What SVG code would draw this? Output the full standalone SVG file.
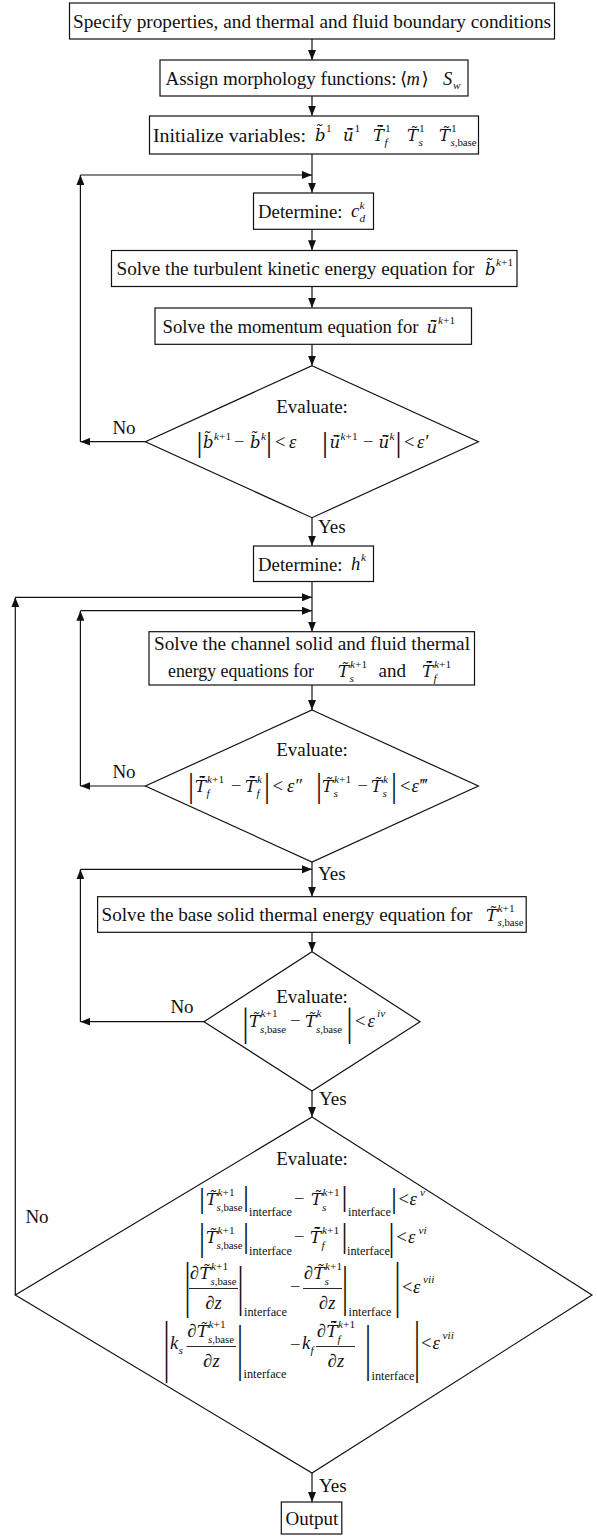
<svg xmlns="http://www.w3.org/2000/svg" width="597" height="1536" viewBox="0 0 597 1536">
<defs>
<style>
text{font-family:"Liberation Serif","Times New Roman","DejaVu Serif",serif;fill:#111}
.t{font-size:19px}
.c{text-anchor:middle}
.i{font-size:18.5px;font-style:italic}
.ad{font-family:"DejaVu Serif",serif;font-size:16.5px;font-style:italic}
.u{font-size:18.5px;font-style:normal}
.s{font-size:11.3px;font-style:normal}
.sb{font-size:10.8px;font-style:normal}
.si{font-size:11.3px;font-style:italic}
.if{font-size:12.3px;font-style:normal}
.bar{font-size:30px;text-anchor:middle}
.nd{fill:#fff;stroke:#111;stroke-width:1.2}
.e{fill:none;stroke:#111;stroke-width:1.2}
.ob{stroke:#111;stroke-width:0.9}
</style>
<marker id="ah" viewBox="0 0 10 8" refX="10" refY="4" markerWidth="10" markerHeight="8" markerUnits="userSpaceOnUse" orient="auto"><path d="M0,0L10,4L0,8z" fill="#111"/></marker>
</defs>
<rect width="597" height="1536" fill="#fff"/>

<g id="connectors" class="e" marker-end="url(#ah)">
<path d="M312,39V60"/>
<path d="M312,96V115.7"/>
<path d="M312,154V192.7"/>
<path d="M312,229.3V250.3"/>
<path d="M312,286.7V307.7"/>
<path d="M312,344.3V365.7"/>
<path d="M312,517.7V545.7"/>
<path d="M312,581.5V631.7"/>
<path d="M312,685V710"/>
<path d="M312,862V896.7"/>
<path d="M312,932.3V951.7"/>
<path d="M312,1091V1117"/>
<path d="M312,1473V1502"/>
<path d="M145.4,441.7H80.4"/>
<path d="M80.4,441.7V175"/>
<path d="M80.4,175H312"/>
<path d="M145.4,786H80.4"/>
<path d="M80.4,786V610.7"/>
<path d="M80.4,610.7H312"/>
<path d="M204,1021.7H80.4"/>
<path d="M80.4,1021.7V869.3"/>
<path d="M80.4,869.3H312"/>
<path d="M15.3,1295V597.3"/>
<path d="M15.3,597.3H312"/>
</g>
<g id="edge-labels" class="t">
<text class="c" x="124" y="433.5">No</text>
<text x="318" y="533">Yes</text>
<text class="c" x="124" y="778">No</text>
<text x="318" y="880">Yes</text>
<text class="c" x="182" y="1013">No</text>
<text x="319" y="1105">Yes</text>
<text class="c" x="37" y="1223">No</text>
<text x="319" y="1492">Yes</text>
</g>

<g id="n1">
<rect class="nd" x="69.5" y="3" width="485" height="36"/>
<text class="t" x="73" y="27.5" textLength="478" lengthAdjust="spacingAndGlyphs">Specify properties, and thermal and fluid boundary conditions</text>
</g>

<g id="n2">
<rect class="nd" x="160" y="60" width="308" height="36"/>
<text class="t" x="165.5" y="84.5" textLength="231" lengthAdjust="spacingAndGlyphs">Assign morphology functions:</text>
<text class="t"><tspan class="u" x="400" y="84.5" font-size="20">⟨</tspan><tspan class="i" x="406.5" y="84.5">m</tspan><tspan class="u" x="421.5" y="84.5" font-size="20">⟩</tspan><tspan class="i" x="443" y="84.5">S</tspan><tspan class="si" x="453" y="88.5">w</tspan></text>
</g>

<g id="n3">
<rect class="nd" x="149.5" y="116" width="329" height="38"/>
<text class="t" x="153" y="141.5" textLength="153" lengthAdjust="spacingAndGlyphs">Initialize variables:</text>
<text class="t"><tspan class="ad" x="315" y="141">b&#x303;</tspan><tspan class="s" x="326" y="132">1</tspan><tspan class="ad" x="343" y="141">u&#x304;&#x303;</tspan><tspan class="s" x="354.5" y="132">1</tspan><tspan class="ad" x="373" y="141">T&#x304;&#x303;</tspan><tspan class="si" x="384.5" y="145.5">f</tspan><tspan class="s" x="385" y="132">1</tspan><tspan class="ad" x="407" y="141">T&#x303;</tspan><tspan class="si" x="418.5" y="145.5">s</tspan><tspan class="s" x="419" y="132">1</tspan><tspan class="ad" x="439" y="141">T&#x303;</tspan><tspan class="sb" x="450.5" y="145.5"><tspan font-style="italic">s</tspan>,base</tspan><tspan class="s" x="451" y="132">1</tspan></text>
</g>

<g id="n4">
<rect class="nd" x="253.5" y="193" width="120" height="36.3"/>
<text class="t" x="258" y="217.5" textLength="84.5" lengthAdjust="spacingAndGlyphs">Determine:</text>
<text class="t"><tspan class="i" x="351" y="217">c</tspan><tspan class="si" x="359.5" y="209">k</tspan><tspan class="si" x="359.5" y="222">d</tspan></text>
</g>

<g id="n5">
<rect class="nd" x="111.5" y="250.5" width="405.5" height="36"/>
<text class="t" x="116.5" y="275" textLength="358" lengthAdjust="spacingAndGlyphs">Solve the turbulent kinetic energy equation for</text>
<text class="t"><tspan class="ad" x="485" y="275">b&#x303;</tspan><tspan class="s" x="496" y="266"><tspan font-style="italic">k</tspan>+1</tspan></text>
</g>

<g id="n6">
<rect class="nd" x="155" y="308" width="316.5" height="36.3"/>
<text class="t" x="162.5" y="332.5" textLength="256" lengthAdjust="spacingAndGlyphs">Solve the momentum equation for</text>
<text class="t"><tspan class="ad" x="426.5" y="332.5">u&#x304;&#x303;</tspan><tspan class="s" x="438" y="324"><tspan font-style="italic">k</tspan>+1</tspan></text>
</g>

<g id="d1">
<polygon class="nd" points="312,365.7 478.4,441.7 312,517.7 145.4,441.7"/>
<text class="t c" x="312" y="413">Evaluate:</text>
<text class="bar" x="199.5" y="451.5">|</text>
<text class="bar" x="269" y="451.5">|</text>
<text class="bar" x="325" y="451.5">|</text>
<text class="bar" x="398.5" y="451.5">|</text>
<text class="i"><tspan class="ad" x="203" y="448">b&#x303;</tspan><tspan class="s" x="214" y="440"><tspan font-style="italic">k</tspan>+1</tspan><tspan class="u" x="234" y="448">−</tspan><tspan class="ad" x="250" y="448">b&#x303;</tspan><tspan class="si" x="261" y="440">k</tspan></text>
<text class="i"><tspan class="u" x="275" y="448">&lt;</tspan><tspan x="289" y="448">ε</tspan></text>
<text class="i"><tspan class="ad" x="329.5" y="448">u&#x304;&#x303;</tspan><tspan class="s" x="340.5" y="440"><tspan font-style="italic">k</tspan>+1</tspan><tspan class="u" x="363" y="448">−</tspan><tspan class="ad" x="378.5" y="448">u&#x304;&#x303;</tspan><tspan class="si" x="389.5" y="440">k</tspan></text>
<text class="i"><tspan class="u" x="404" y="448">&lt;</tspan><tspan x="417" y="448">ε′</tspan></text>
</g>

<g id="nh">
<rect class="nd" x="253.5" y="546" width="120" height="35.5"/>
<text class="t" x="258" y="570.5" textLength="84.5" lengthAdjust="spacingAndGlyphs">Determine:</text>
<text class="t"><tspan class="i" x="351" y="570">h</tspan><tspan class="si" x="361" y="561">k</tspan></text>
</g>

<g id="n7">
<rect class="nd" x="149" y="631.7" width="325.5" height="53.3"/>
<text class="t" x="154" y="650" textLength="316" lengthAdjust="spacingAndGlyphs">Solve the channel solid and fluid thermal</text>
<text class="t" x="168" y="677" textLength="146" lengthAdjust="spacingAndGlyphs">energy equations for</text>
<text class="t"><tspan class="ad" x="338" y="677">T&#x303;</tspan><tspan class="si" x="349.5" y="681.5">s</tspan><tspan class="s" x="350" y="668"><tspan font-style="italic">k</tspan>+1</tspan><tspan x="378.5" y="677">and</tspan><tspan class="ad" x="422" y="677">T&#x304;&#x303;</tspan><tspan class="si" x="433.5" y="681.5">f</tspan><tspan class="s" x="434" y="668"><tspan font-style="italic">k</tspan>+1</tspan></text>
</g>

<g id="d2">
<polygon class="nd" points="312,710 478.4,786 312,862 145.4,786"/>
<text class="t c" x="312" y="756">Evaluate:</text>
<text class="bar" transform="translate(191,796.5) scale(1,1.1)">|</text>
<text class="bar" transform="translate(267,796.5) scale(1,1.1)">|</text>
<text class="bar" transform="translate(319,796.5) scale(1,1.1)">|</text>
<text class="bar" transform="translate(394,796.5) scale(1,1.1)">|</text>
<text class="i"><tspan class="ad" x="195" y="792">T&#x304;&#x303;</tspan><tspan class="si" x="206.5" y="797">f</tspan><tspan class="s" x="207" y="783"><tspan font-style="italic">k</tspan>+1</tspan><tspan class="u" x="231" y="792">−</tspan><tspan class="ad" x="245" y="792">T&#x304;&#x303;</tspan><tspan class="si" x="256.5" y="797">f</tspan><tspan class="si" x="257" y="783">k</tspan></text>
<text class="i"><tspan class="u" x="272.5" y="792">&lt;</tspan><tspan x="287" y="792">ε″</tspan></text>
<text class="i"><tspan class="ad" x="322" y="792">T&#x303;</tspan><tspan class="si" x="333.5" y="797">s</tspan><tspan class="s" x="334" y="783"><tspan font-style="italic">k</tspan>+1</tspan><tspan class="u" x="357.5" y="792">−</tspan><tspan class="ad" x="371" y="792">T&#x303;</tspan><tspan class="si" x="382.5" y="797">s</tspan><tspan class="si" x="383" y="783">k</tspan></text>
<text class="i"><tspan class="u" x="400" y="792">&lt;</tspan><tspan x="411.5" y="792">ε‴</tspan></text>
</g>

<g id="n8">
<rect class="nd" x="97.6" y="896.7" width="428.6" height="35.6"/>
<text class="t" x="101.5" y="921" textLength="371" lengthAdjust="spacingAndGlyphs">Solve the base solid thermal energy equation for</text>
<text class="t"><tspan class="ad" x="486" y="921">T&#x303;</tspan><tspan class="s" x="497.5" y="912"><tspan font-style="italic">k</tspan>+1</tspan><tspan class="sb" x="497.5" y="926"><tspan font-style="italic">s</tspan>,base</tspan></text>
</g>

<g id="d3">
<polygon class="nd" points="312,951.7 420,1021.7 312,1091 204,1021.7"/>
<text class="t c" x="312" y="1003">Evaluate:</text>
<text class="bar" transform="translate(245.5,1034.5) scale(1,1.31)">|</text>
<text class="bar" transform="translate(349.5,1034.5) scale(1,1.31)">|</text>
<text class="i"><tspan class="ad" x="249" y="1027">T&#x303;</tspan><tspan class="s" x="260.5" y="1017"><tspan font-style="italic">k</tspan>+1</tspan><tspan class="sb" x="260" y="1033"><tspan font-style="italic">s</tspan>,base</tspan><tspan class="u" x="290" y="1027">−</tspan><tspan class="ad" x="305" y="1027">T&#x303;</tspan><tspan class="si" x="316.5" y="1017">k</tspan><tspan class="sb" x="316" y="1033"><tspan font-style="italic">s</tspan>,base</tspan></text>
<text class="i"><tspan class="u" x="355" y="1027">&lt;</tspan><tspan x="367.5" y="1027">ε</tspan><tspan class="si" x="377" y="1017">iv</tspan></text>
</g>

<g id="d4">
<polygon class="nd" points="312,1117 592,1295 312,1473 15.3,1295"/>
<text class="t c" x="312" y="1165">Evaluate:</text>
<!-- line 1 -->
<text class="bar" x="202" y="1207.5">|</text>
<text class="bar" x="246" y="1205.5">|</text>
<text class="bar" x="344.5" y="1205.5">|</text>
<text class="bar" x="394" y="1207.5">|</text>
<text class="i"><tspan class="ad" x="206" y="1205">T&#x303;</tspan><tspan class="s" x="217.5" y="1196"><tspan font-style="italic">k</tspan>+1</tspan><tspan class="sb" x="216.5" y="1211"><tspan font-style="italic">s</tspan>,base</tspan></text>
<text class="i"><tspan class="if" x="249" y="1216">interface</tspan><tspan class="u" x="294" y="1205">−</tspan><tspan class="ad" x="311" y="1205">T&#x303;</tspan><tspan class="s" x="322.5" y="1196"><tspan font-style="italic">k</tspan>+1</tspan><tspan class="si" x="322" y="1211">s</tspan></text>
<text class="if" x="348" y="1216">interface</text>
<text class="i"><tspan class="u" x="398.5" y="1205">&lt;</tspan><tspan x="409.5" y="1205">ε</tspan><tspan class="si" x="420" y="1196">v</tspan></text>
<!-- line 2 -->
<text class="bar" transform="translate(202,1249.9) scale(1,1.24)">|</text>
<text class="bar" transform="translate(246,1246.8) scale(1,1.1)">|</text>
<text class="bar" transform="translate(344.5,1246.8) scale(1,1.1)">|</text>
<text class="bar" transform="translate(391.5,1249.9) scale(1,1.24)">|</text>
<text class="i"><tspan class="ad" x="206" y="1243">T&#x303;</tspan><tspan class="s" x="217.5" y="1234"><tspan font-style="italic">k</tspan>+1</tspan><tspan class="sb" x="216.5" y="1249"><tspan font-style="italic">s</tspan>,base</tspan></text>
<text class="i"><tspan class="if" x="249" y="1255">interface</tspan><tspan class="u" x="294" y="1243">−</tspan><tspan class="ad" x="310" y="1243">T&#x304;&#x303;</tspan><tspan class="s" x="322" y="1234"><tspan font-style="italic">k</tspan>+1</tspan><tspan class="si" x="321.5" y="1249">f</tspan></text>
<text class="if" x="347" y="1255" font-size="12">interface</text>
<text class="i"><tspan class="u" x="396.5" y="1243">&lt;</tspan><tspan x="408" y="1243">ε</tspan><tspan class="si" x="418.5" y="1234">vi</tspan></text>
<!-- line 3 -->
<text class="bar" transform="translate(187.5,1304.6) scale(1,2.07)">|</text>
<text class="bar" transform="translate(240.5,1303.9) scale(1,1.86)">|</text>
<text class="bar" transform="translate(345,1303.9) scale(1,1.86)">|</text>
<text class="bar" transform="translate(397.5,1304.6) scale(1,2.07)">|</text>
<line class="ob" x1="189" y1="1288.5" x2="238" y2="1288.5"/>
<line class="ob" x1="303" y1="1288.5" x2="342" y2="1288.5"/>
<text class="i"><tspan x="190" y="1279">∂</tspan><tspan class="ad" x="199.5" y="1279">T&#x303;</tspan><tspan class="s" x="211" y="1270"><tspan font-style="italic">k</tspan>+1</tspan><tspan class="sb" x="210.5" y="1284.5"><tspan font-style="italic">s</tspan>,base</tspan><tspan x="205.4" y="1309">∂z</tspan></text>
<text class="i"><tspan class="if" x="244" y="1316">interface</tspan><tspan class="u" x="290" y="1293">−</tspan><tspan x="304" y="1279">∂</tspan><tspan class="ad" x="313.5" y="1279">T&#x303;</tspan><tspan class="s" x="325" y="1270"><tspan font-style="italic">k</tspan>+1</tspan><tspan class="si" x="324.5" y="1284.5">s</tspan><tspan x="319" y="1309">∂z</tspan></text>
<text class="if" x="348.5" y="1316">interface</text>
<text class="i"><tspan class="u" x="402" y="1293">&lt;</tspan><tspan x="413" y="1293">ε</tspan><tspan class="si" x="423" y="1283">vii</tspan></text>
<!-- line 4 -->
<text class="bar" transform="translate(166.5,1369.2) scale(1,2.28)">|</text>
<text class="bar" transform="translate(240,1367.8) scale(1,2.03)">|</text>
<text class="bar" transform="translate(368,1367.8) scale(1,2.03)">|</text>
<text class="bar" transform="translate(417,1369.2) scale(1,2.28)">|</text>
<line class="ob" x1="186.5" y1="1346.5" x2="236" y2="1346.5"/>
<line class="ob" x1="316" y1="1346.5" x2="355" y2="1346.5"/>
<text class="i"><tspan x="170" y="1349">k</tspan><tspan class="si" x="178.5" y="1353.5">s</tspan><tspan x="187.5" y="1337">∂</tspan><tspan class="ad" x="197" y="1337">T&#x303;</tspan><tspan class="s" x="208.5" y="1328"><tspan font-style="italic">k</tspan>+1</tspan><tspan class="sb" x="208" y="1342.5"><tspan font-style="italic">s</tspan>,base</tspan><tspan x="203.3" y="1367">∂z</tspan></text>
<text class="i"><tspan class="if" x="243.5" y="1378">interface</tspan><tspan class="u" x="290" y="1351">−</tspan><tspan x="302" y="1349">k</tspan><tspan class="si" x="310.5" y="1353.5">f</tspan><tspan x="317" y="1337">∂</tspan><tspan class="ad" x="326.5" y="1337">T&#x304;&#x303;</tspan><tspan class="s" x="338" y="1328"><tspan font-style="italic">k</tspan>+1</tspan><tspan class="si" x="337.5" y="1342.5">f</tspan><tspan x="327.8" y="1367">∂z</tspan></text>
<text class="if" x="371.5" y="1380">interface</text>
<text class="i"><tspan class="u" x="421" y="1349">&lt;</tspan><tspan x="432.5" y="1349">ε</tspan><tspan class="si" x="442.5" y="1339">vii</tspan></text>
</g>

<g id="out">
<rect class="nd" x="281.3" y="1502" width="60.5" height="32"/>
<text class="t c" x="312" y="1524.5">Output</text>
</g>
</svg>
